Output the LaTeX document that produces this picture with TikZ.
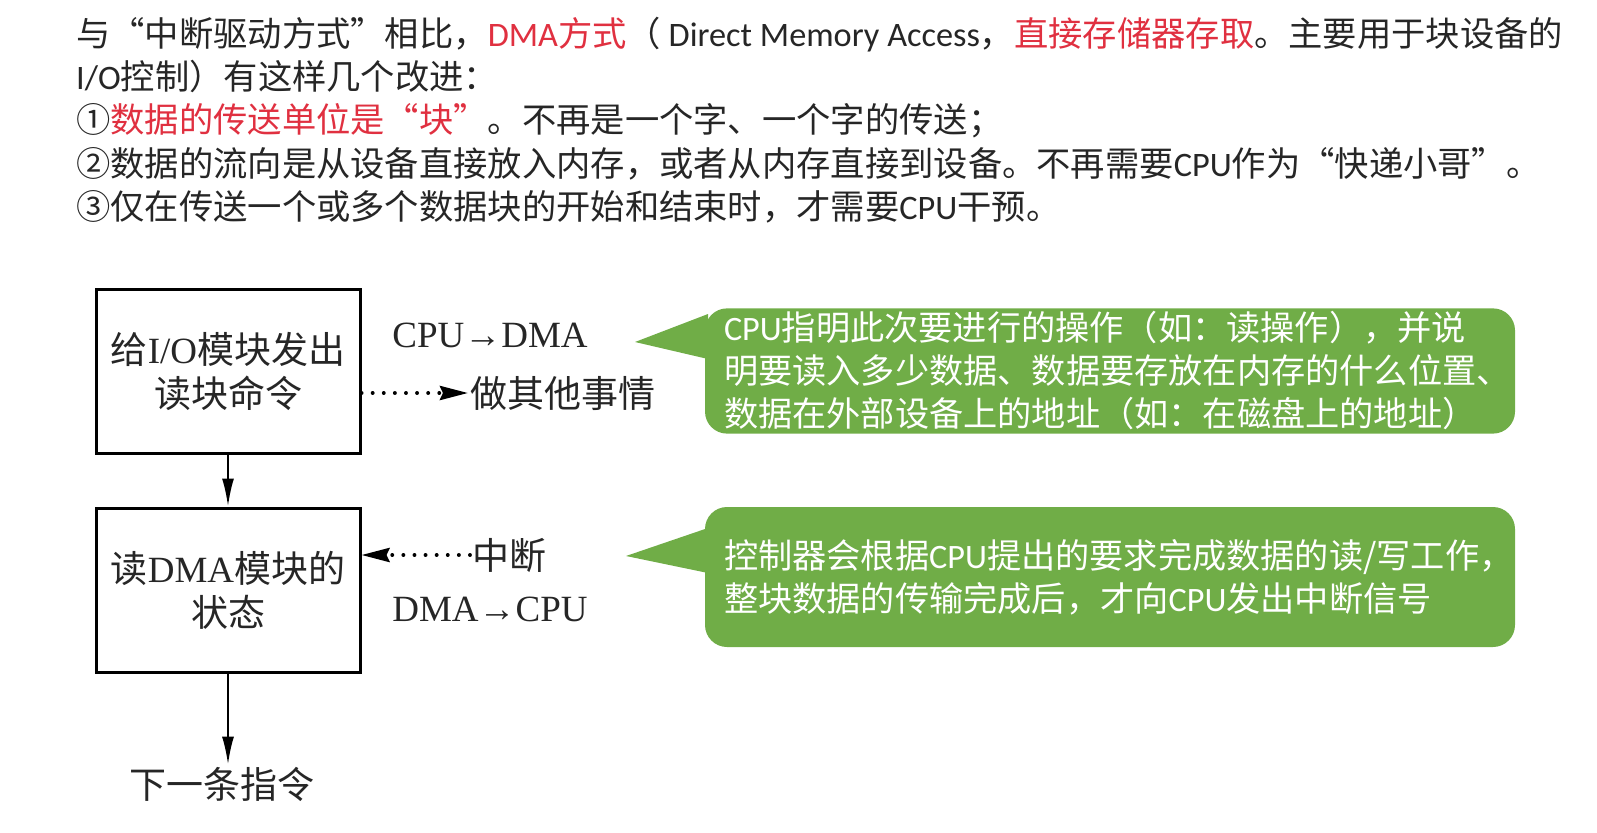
\documentclass[tikz,border=0pt]{standalone}
\usepackage{fontspec}
\setmainfont{Noto Sans CJK SC}
\newfontfamily\lat{Carlito}
\newfontfamily\ser{Liberation Serif}
\usetikzlibrary{arrows.meta, positioning}
\definecolor{notegreen}{RGB}{112,173,71}
\definecolor{hired}{RGB}{224,48,64}
\definecolor{ink}{RGB}{38,38,38}
\tikzset{
    blk/.style={rectangle, draw=black, line width=3pt, minimum width=264pt, minimum height=164pt, align=center, text=ink, font=\fontsize{37}{44}\selectfont},
    lbl/.style={text=ink, font=\fontsize{37}{44}\selectfont, inner sep=2pt},
    flow/.style={line width=2.2pt, -{Latex[length=28pt, width=12pt]}},
    dotarrow/.style={line width=3.8pt, line cap=round, dash pattern=on 0.1pt off 11pt, -{Stealth[length=28pt, width=14pt, inset=3pt]}},
    note/.style={rectangle, rounded corners=22pt, fill=notegreen, text=white, minimum width=810pt, text width=772pt, align=left, font=\fontsize{34.2}{43}\selectfont},
}

\begin{document}
\begin{tikzpicture}[x=1pt, y=-1pt]
    \useasboundingbox (0,0) rectangle (1597,832);
    % intro text
    \node[anchor=west, align=left, text=ink, inner sep=0pt, font=\fontsize{34.3}{43.3}\selectfont] (intro) at (76,120) {%
        与“中断驱动方式”相比，\textcolor{hired}{{\lat DMA}方式}（ {\lat Direct Memory Access}，\textcolor{hired}{直接存储器存取}。主要用于块设备的\\
        {\lat I/O}控制）有这样几个改进：\\
        ①\textcolor{hired}{数据的传送单位是“块”}。不再是一个字、一个字的传送；\\
        ②数据的流向是从设备直接放入内存，或者从内存直接到设备。不再需要{\lat CPU}作为“快递小哥”。\\
        ③仅在传送一个或多个数据块的开始和结束时，才需要{\lat CPU}干预。};

    % flow chart
    \node[blk] (give) at (228,371) {给{\ser I/O}模块发出\\读块命令};
    \node[blk] (readst) at (228,590) {读{\ser DMA}模块的\\状态};
    \node[lbl] (next) at (222,784) {下一条指令};
    \node[lbl] (c2d) at (490,335) {\ser CPU→DMA};
    \node[lbl, anchor=west] (other) at (468,393) {做其他事情};
    \node[lbl, anchor=west] (intr) at (470,555) {中断};
    \node[lbl] (d2c) at (490,609) {\ser DMA→CPU};

    \draw[flow] (give) -- (readst);
    \draw[flow] (readst.south) -- (readst.south |- next.north);
    \draw[dotarrow] (give.east |- other.west) -- (other.west);
    \draw[dotarrow] (intr.west) -- (intr.west -| readst.east);

    % callouts
    \node[note] (note1) at (1110,371) {{\lat CPU}指明此次要进行的操作（如：读操作），并说\\明要读入多少数据、数据要存放在内存的什么位置、\\数据在外部设备上的地址（如：在磁盘上的地址）};
    \fill[notegreen] (708,314) -- (635,342) -- (708,359) -- cycle;
    \node[note, minimum height=140pt] (note2) at (1110,577) {控制器会根据{\lat CPU}提出的要求完成数据的读/写工作，\\整块数据的传输完成后，才向{\lat CPU}发出中断信号};
    \fill[notegreen] (708,528) -- (626,556) -- (708,573) -- cycle;
\end{tikzpicture}
\end{document}
